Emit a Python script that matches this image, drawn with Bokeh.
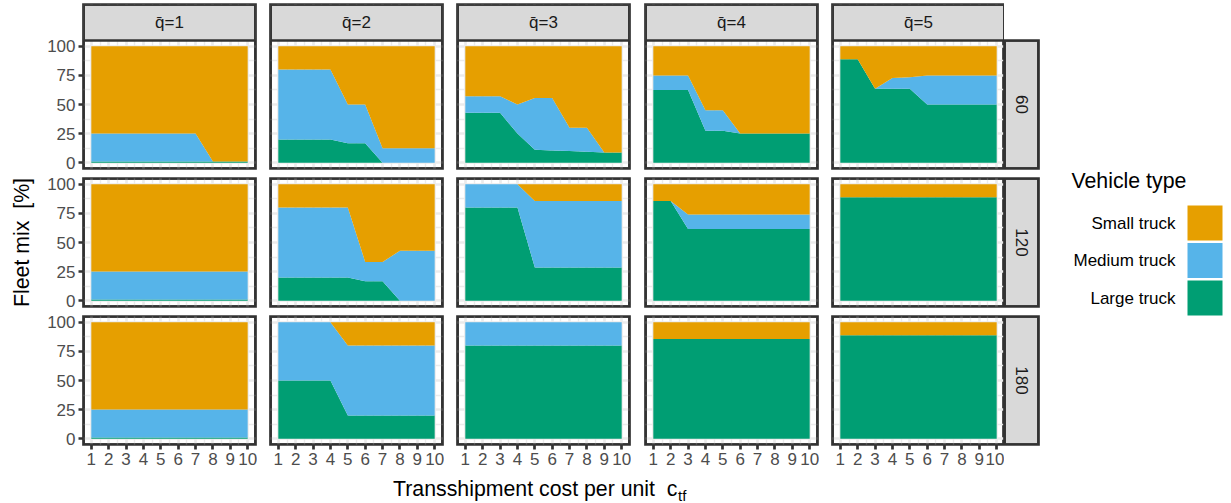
import math
from bokeh.plotting import figure
from bokeh.layouts import row, column
from bokeh.models import Range1d, LinearAxis, FixedTicker, Grid, ColumnDataSource
from bokeh.core.properties import value
from bokeh.embed import file_html
from bokeh.resources import INLINE

# ---------------------------------------------------------------- data
cost = [1, 2, 3, 4, 5, 6, 7, 8, 9, 10]
q_levels = [1, 2, 3, 4, 5]
capacities = [60, 120, 180]
vehicle_types = ["Small truck", "Medium truck", "Large truck"]
palette = ["#E69F00", "#56B4E9", "#009E73"]
y_ticks = [0, 25, 50, 75, 100]

# fleet shares in %, one list per q level (q=1 ... q=5)
large_60 = [
    [1, 1, 1, 1, 1, 1, 1, 1, 1, 1],
    [20, 20, 20, 20, 16.7, 16.7, 0, 0, 0, 0],
    [42.9, 42.9, 42.9, 25, 11.1, 10.5, 10, 9.5, 8.7, 8.7],
    [62.5, 62.5, 62.5, 27.5, 27.5, 25, 25, 25, 25, 25],
    [88.9, 88.9, 63.6, 63.6, 63.6, 50, 50, 50, 50, 50],
]
medium_60 = [
    [24, 24, 24, 24, 24, 24, 24, 0, 0, 0],
    [60, 60, 60, 60, 33.3, 33.3, 12.5, 12.5, 12.5, 12.5],
    [14.2, 14.2, 14.2, 25, 44.5, 45.1, 20, 20.5, 0, 0],
    [12.5, 12.5, 12.5, 17.5, 17.5, 0, 0, 0, 0, 0],
    [0, 0, 0, 9.1, 9.9, 25, 25, 25, 25, 25],
]
small_60 = [
    [75, 75, 75, 75, 75, 75, 75, 99, 99, 99],
    [20, 20, 20, 20, 50, 50, 87.5, 87.5, 87.5, 87.5],
    [42.9, 42.9, 42.9, 50, 44.4, 44.4, 70, 70, 91.3, 91.3],
    [25, 25, 25, 55, 55, 75, 75, 75, 75, 75],
    [11.1, 11.1, 36.4, 27.3, 26.5, 25, 25, 25, 25, 25],
]

large_120 = [
    [1, 1, 1, 1, 1, 1, 1, 1, 1, 1],
    [20, 20, 20, 20, 20, 16.7, 16.7, 0, 0, 0],
    [80, 80, 80, 80, 28.6, 28.6, 28.6, 28.6, 28.6, 28.6],
    [85.7, 85.7, 61.5, 61.5, 61.5, 61.5, 61.5, 61.5, 61.5, 61.5],
    [88.9, 88.9, 88.9, 88.9, 88.9, 88.9, 88.9, 88.9, 88.9, 88.9],
]
medium_120 = [
    [24, 24, 24, 24, 24, 24, 24, 24, 24, 24],
    [60, 60, 60, 60, 60, 16.6, 16.6, 42.9, 42.9, 42.9],
    [20, 20, 20, 20, 57.1, 57.1, 57.1, 57.1, 57.1, 57.1],
    [0, 0, 12.5, 12.5, 12.5, 12.5, 12.5, 12.5, 12.5, 12.5],
    [0, 0, 0, 0, 0, 0, 0, 0, 0, 0],
]
small_120 = [
    [75, 75, 75, 75, 75, 75, 75, 75, 75, 75],
    [20, 20, 20, 20, 20, 66.7, 66.7, 57.1, 57.1, 57.1],
    [0, 0, 0, 0, 14.3, 14.3, 14.3, 14.3, 14.3, 14.3],
    [14.3, 14.3, 26, 26, 26, 26, 26, 26, 26, 26],
    [11.1, 11.1, 11.1, 11.1, 11.1, 11.1, 11.1, 11.1, 11.1, 11.1],
]

large_180 = [
    [1, 1, 1, 1, 1, 1, 1, 1, 1, 1],
    [50, 50, 50, 50, 20, 20, 20, 20, 20, 20],
    [80, 80, 80, 80, 80, 80, 80, 80, 80, 80],
    [85.7, 85.7, 85.7, 85.7, 85.7, 85.7, 85.7, 85.7, 85.7, 85.7],
    [88.9, 88.9, 88.9, 88.9, 88.9, 88.9, 88.9, 88.9, 88.9, 88.9],
]
medium_180 = [
    [24, 24, 24, 24, 24, 24, 24, 24, 24, 24],
    [50, 50, 50, 50, 60, 60, 60, 60, 60, 60],
    [20, 20, 20, 20, 20, 20, 20, 20, 20, 20],
    [0, 0, 0, 0, 0, 0, 0, 0, 0, 0],
    [0, 0, 0, 0, 0, 0, 0, 0, 0, 0],
]
small_180 = [
    [75, 75, 75, 75, 75, 75, 75, 75, 75, 75],
    [0, 0, 0, 0, 20, 20, 20, 20, 20, 20],
    [0, 0, 0, 0, 0, 0, 0, 0, 0, 0],
    [14.3, 14.3, 14.3, 14.3, 14.3, 14.3, 14.3, 14.3, 14.3, 14.3],
    [11.1, 11.1, 11.1, 11.1, 11.1, 11.1, 11.1, 11.1, 11.1, 11.1],
]

shares = {
    60: (large_60, medium_60, small_60),
    120: (large_120, medium_120, small_120),
    180: (large_180, medium_180, small_180),
}

# ---------------------------------------------------------------- style
FONT = "Liberation Sans"
BORDER = "#333333"
LW = 2.7
STRIP_FILL = "#D9D9D9"
STRIP_TEXT = "#1A1A1A"
GRID = "#EBEBEB"

X_LIM = (0.55, 10.45)
Y_LIM = (-5, 105)
FW, FH = 172, 128                      # panel area in pixels
COL_LEFT = [83, 13, 13, 14, 13]        # left border of each column figure
COL_RIGHT = [2, 2, 2, 2, 0]
ROW_TOP = [4, 5, 5]
ROW_BOTTOM = [5, 5, 30]
STRIP_H = 36                           # top strip height
STRIP_W = 34                           # right strip width


def bare_figure(width, height, xr, yr, left=0, right=0, top=0, bottom=0):
    f = figure(width=width, height=height, x_range=xr, y_range=yr,
               x_axis_location=None, y_axis_location=None,
               tools="", toolbar_location=None, output_backend="svg",
               frame_align=False,
               min_border_left=left, min_border_right=right,
               min_border_top=top, min_border_bottom=bottom)
    f.center = [m for m in f.center if not isinstance(m, Grid)]
    f.outline_line_color = None
    f.background_fill_color = "white"
    f.border_fill_color = "white"
    return f


def frame_border(f, x0, x1, y0, y1):
    # outline gives the outer half of the border, the quad the inner half
    f.outline_line_color = BORDER
    f.outline_line_width = LW
    f.outline_line_join = "miter"
    f.quad(left=x0, right=x1, bottom=y0, top=y1, fill_color=None,
           line_color=BORDER, line_width=LW, line_join="miter")


def style_axis(ax):
    ax.axis_line_color = None
    ax.major_tick_line_color = BORDER
    ax.major_tick_line_width = LW
    ax.major_tick_out = 5
    ax.major_tick_in = 0
    ax.minor_tick_line_color = None
    ax.major_label_text_font = FONT
    ax.major_label_text_font_size = "17px"
    ax.major_label_text_color = "#4D4D4D"
    ax.major_label_standoff = 3
    ax.axis_label_text_font = FONT
    ax.axis_label_text_font_size = "21.3px"
    ax.axis_label_text_font_style = "normal"
    ax.axis_label_text_color = "black"


def panel(r, c):
    cap = capacities[r]
    large, medium, small = shares[cap]
    units_per_px = (Y_LIM[1] - Y_LIM[0]) / FH
    with_strip = r == 0
    frame_h = FH + (STRIP_H if with_strip else 0)
    y_end = Y_LIM[1] + (STRIP_H * units_per_px if with_strip else 0)

    w = COL_LEFT[c] + FW + COL_RIGHT[c]
    h = ROW_TOP[r] + frame_h + ROW_BOTTOM[r]
    p = bare_figure(w, h, Range1d(*X_LIM), Range1d(Y_LIM[0], y_end),
                    COL_LEFT[c], COL_RIGHT[c], ROW_TOP[r], ROW_BOTTOM[r])

    x_minor = [(a + b) / 2 for a, b in zip(cost[:-1], cost[1:])]
    y_minor = [(a + b) / 2 for a, b in zip(y_ticks[:-1], y_ticks[1:])]
    gx = Grid(dimension=0, ticker=FixedTicker(ticks=cost, minor_ticks=x_minor))
    gy = Grid(dimension=1, ticker=FixedTicker(ticks=y_ticks, minor_ticks=y_minor))
    for g in (gx, gy):
        g.grid_line_color = GRID
        g.grid_line_width = LW
        g.minor_grid_line_color = GRID
        g.minor_grid_line_width = 1.4
        p.add_layout(g)

    src = ColumnDataSource(dict(cost=cost,
                                large=large[c], medium=medium[c], small=small[c]))
    p.varea_stack(stackers=["large", "medium", "small"], x="cost",
                  color=[palette[2], palette[1], palette[0]], source=src)

    if with_strip:
        # facet strip sitting on top of the panel area
        p.quad(left=X_LIM[0], right=X_LIM[1], bottom=Y_LIM[1], top=y_end,
               fill_color=STRIP_FILL, line_color=BORDER, line_width=LW,
               line_join="miter")
        p.text(x=[sum(X_LIM) / 2], y=[(Y_LIM[1] + y_end) / 2],
               text=["q\u0304=%d" % q_levels[c]],
               text_align="center", text_baseline="middle",
               text_font=value(FONT), text_font_size="17px", text_color=STRIP_TEXT)
    frame_border(p, X_LIM[0], X_LIM[1], Y_LIM[0], y_end)

    if c == 0:
        ay = LinearAxis(ticker=FixedTicker(ticks=y_ticks))
        style_axis(ay)
        if r == 1:
            ay.axis_label = "Fleet mix\u00a0\u00a0[%]"
            ay.axis_label_standoff = 10
        p.add_layout(ay, "left")
    if r == len(capacities) - 1:
        ax = LinearAxis(ticker=FixedTicker(ticks=cost))
        style_axis(ax)
        p.add_layout(ax, "below")
    return p


def side_strip(r):
    top = ROW_TOP[r] + (STRIP_H if r == 0 else 0)
    s = bare_figure(STRIP_W + 2, top + FH + ROW_BOTTOM[r],
                    Range1d(0, 1), Range1d(0, 1), 0, 2, top, ROW_BOTTOM[r])
    s.background_fill_color = STRIP_FILL
    frame_border(s, 0, 1, 0, 1)
    s.text(x=[0.5], y=[0.5], text=[str(capacities[r])], angle=-math.pi / 2,
           text_align="center", text_baseline="middle",
           text_font=value(FONT), text_font_size="17px", text_color=STRIP_TEXT)
    return s


rows = []
for r in range(len(capacities)):
    figs = [panel(r, c) for c in range(len(q_levels))]
    figs.append(side_strip(r))
    rows.append(row(figs))

# x-axis title with subscript
main_w = sum(COL_LEFT) + 5 * FW + sum(COL_RIGHT) + STRIP_W + 2
used_h = STRIP_H + sum(ROW_TOP) + 3 * FH + sum(ROW_BOTTOM)
title_h = 503 - used_h
tfig = bare_figure(main_w, title_h, Range1d(0, main_w), Range1d(title_h, 0))
tfig.text(x=[677], y=[14], text=["Transshipment cost per unit\u00a0\u00a0c"],
          text_align="right", text_baseline="alphabetic",
          text_font=value(FONT), text_font_size="21.3px", text_color="black")
tfig.text(x=[677.5], y=[21], text=["tf"],
          text_align="left", text_baseline="alphabetic",
          text_font=value(FONT), text_font_size="15px", text_color="black")
rows.append(tfig)

main = column(rows)

# legend panel (page coordinates, y downwards)
leg_w = 1231 - main_w
lfig = bare_figure(leg_w, 503, Range1d(main_w, 1231), Range1d(503, 0))
lfig.text(x=[1071], y=[180], text=["Vehicle type"], text_align="left",
          text_baseline="middle", text_font=value(FONT),
          text_font_size="21.3px", text_color="black")
key_top0, key_h, key_gap = 205, 35, 2.5
key_tops = [key_top0 + i * (key_h + key_gap) for i in range(len(vehicle_types))]
lsrc = ColumnDataSource(dict(
    top=key_tops, bottom=[t + key_h for t in key_tops],
    mid=[t + key_h / 2 for t in key_tops],
    label=vehicle_types, color=palette))
lfig.quad(left=1187, right=1222, top="top", bottom="bottom",
          fill_color="color", line_color=None, source=lsrc)
lfig.text(x=1175, y="mid", text="label", text_align="right",
          text_baseline="middle", text_font=value(FONT),
          text_font_size="17px", text_color="black", source=lsrc)

layout = row(main, lfig)

with open("out.html", "w") as fh:
    fh.write(file_html(layout, INLINE))
